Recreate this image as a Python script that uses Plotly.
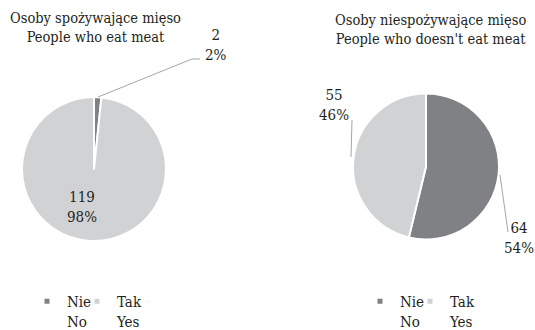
import plotly.graph_objects as go

W, H = 535, 330

categories = ["Nie<br>No", "Tak<br>Yes"]
eat_meat = [2, 119]
no_meat = [64, 55]
titles = ["Osoby spożywające mięso<br>People who eat meat",
          "Osoby niespożywające mięso<br>People who doesn't eat meat"]
colors = ["#808185", "#d1d2d4"]

FONT = "DejaVu Serif Condensed"
TXT = "#231f20"


def px(x, y):
    return x / W, 1 - y / H


def pct(vals):
    tot = sum(vals)
    return [round(100 * v / tot) for v in vals]


fig = go.Figure()

# pie domains in pixels: (left, top, right, bottom)
doms = [(22, 96, 166, 242), (353, 93, 499, 240)]
for vals, (l, t, r, b) in zip([eat_meat, no_meat], doms):
    fig.add_trace(go.Pie(
        labels=categories, values=vals, sort=False, direction="clockwise",
        rotation=0, textinfo="none", hoverinfo="label+value+percent",
        marker=dict(colors=colors, line=dict(color="white", width=2)),
        domain=dict(x=[l / W, r / W], y=[1 - b / H, 1 - t / H]),
        showlegend=False,
    ))

# small square legend swatches, one legend per pie
for leg in ["legend", "legend2"]:
    for name, c in zip(categories, colors):
        fig.add_trace(go.Scatter(
            x=[None], y=[None], mode="markers", name=name, legend=leg,
            marker=dict(symbol="square", size=5, color=c),
            hoverinfo="skip",
        ))
    # empty spacer entry so the last label is not clipped
    fig.add_trace(go.Scatter(
        x=[None], y=[None], mode="markers", name=" ", legend=leg,
        marker=dict(size=1, opacity=0), hoverinfo="skip",
    ))

ann = []
for (cx, cy), t in zip([(95, 28), (430, 29)], titles):
    x, y = px(cx, cy)
    ann.append(dict(x=x, y=y, xref="paper", yref="paper", text=t,
                    xanchor="center", yanchor="middle", showarrow=False,
                    font=dict(family=FONT, size=14.5, color=TXT)))

# data labels (value + percentage)
label_pos = [
    (eat_meat, [(216, 45), (82, 207)]),
    (no_meat, [(519, 238), (334, 105)]),
]
for vals, spots in label_pos:
    for v, p, (cx, cy) in zip(vals, pct(vals), spots):
        x, y = px(cx, cy)
        ann.append(dict(x=x, y=y, xref="paper", yref="paper",
                        text=f"{v}<br>{p}%", showarrow=False,
                        xanchor="center", yanchor="middle",
                        font=dict(family=FONT, size=15, color=TXT)))

# leader lines
leaders = [
    [(98, 97), (192, 59), (200, 59)],
    [(352, 120), (351, 157)],
    [(500, 175), (508, 232)],
]
shapes = []
for pts in leaders:
    path = ""
    for k, (x0, y0) in enumerate(pts):
        x, y = px(x0, y0)
        path += ("M" if k == 0 else " L") + f" {x} {y}"
    shapes.append(dict(type="path", xref="paper", yref="paper", path=path,
                       line=dict(color="#a5a6a8", width=1)))

leg_style = dict(orientation="h", yanchor="top", xanchor="left",
                 font=dict(family=FONT, size=15, color=TXT),
                 valign="top", itemwidth=30, bgcolor="rgba(0,0,0,0)",
                 entrywidth=5, entrywidthmode="pixels")
lx1, ly1 = px(27, 285)
lx2, ly2 = px(360, 285)

fig.update_layout(
    width=W, height=H, margin=dict(l=0, r=0, t=0, b=0, autoexpand=False),
    paper_bgcolor="white", plot_bgcolor="white",
    annotations=ann, shapes=shapes,
    legend=dict(x=lx1, y=ly1, **leg_style),
    legend2=dict(x=lx2, y=ly2, **leg_style),
    xaxis=dict(visible=False), yaxis=dict(visible=False),
    showlegend=True,
)

fig.write_html("out.html")
